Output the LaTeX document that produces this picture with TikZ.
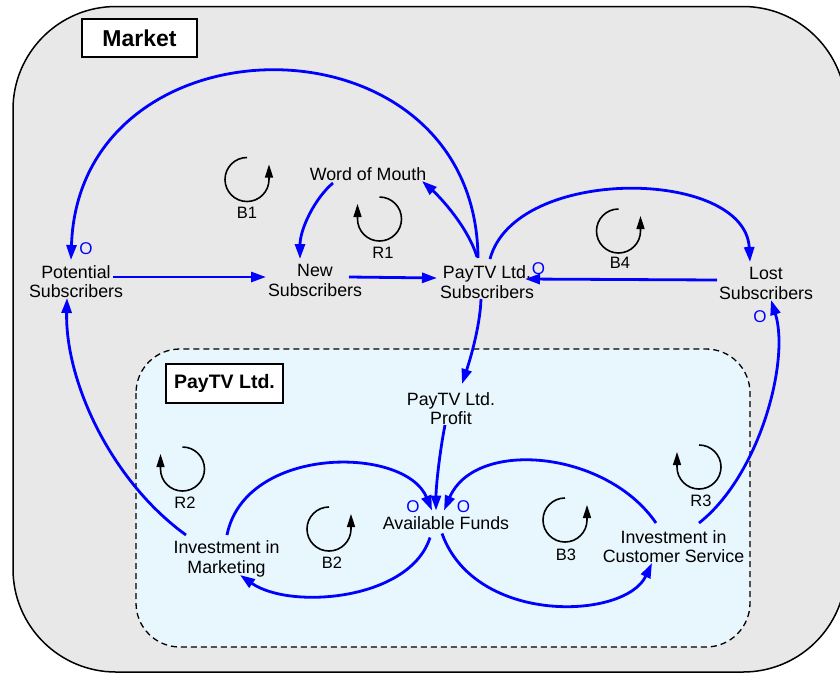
\documentclass[tikz,border=0pt]{standalone}
\usepackage{fontspec}
\setmainfont{Liberation Sans}
\usetikzlibrary{arrows.meta}
\definecolor{mktgray}{RGB}{232,232,232}
\definecolor{firmblue}{RGB}{232,246,254}
\definecolor{linkblue}{RGB}{0,0,255}
\begin{document}
\begin{tikzpicture}[x=1pt,y=1pt,
  var/.style={align=center,font=\fontsize{17.8}{19.5}\selectfont,inner sep=0pt},
  link/.style={draw=linkblue,line width=2.8pt,-{Triangle[length=15pt,width=10pt]}},
  polarity/.style={text=linkblue,font=\fontsize{17}{17}\selectfont,inner sep=0pt},
  looplbl/.style={font=\fontsize{16.5}{16.5}\selectfont,inner sep=0pt},
  loopline/.style={draw=black,line width=1.6pt,-{Triangle[length=13pt,width=8pt]}},
  ccwloop/.pic={\path[loopline] (0,22) arc[start angle=90,end angle=360,radius=22] -- ++(0,15);},
  cwloop/.pic={\path[loopline] (0,22) arc[start angle=90,end angle=-180,radius=22] -- ++(0,15);},
  tag/.style={draw=black,line width=2pt,fill=white,inner sep=0pt}
]
\useasboundingbox (0,0) rectangle (840,-673);
\clip (0,0) rectangle (840,-673);

% market boundary
\draw[fill=mktgray,line width=1.5pt,rounded corners=103pt] (13,-6.5) rectangle (846,-672);
% company boundary
\draw[fill=firmblue,line width=1.3pt,dash pattern=on 6pt off 4pt,rounded corners=44pt] (136,-349) rectangle (750,-647);

\node[tag,minimum width=115pt,minimum height=38pt,font=\bfseries\fontsize{23}{23}\selectfont] (mlabel) at (139.5,-38) {Market};
\node[tag,minimum width=117pt,minimum height=39pt,font=\bfseries\fontsize{19.5}{19.5}\selectfont] (flabel) at (224.5,-383.5) {PayTV Ltd.};

% variables
\node[var] (pot) at (76,-281.5) {Potential\\Subscribers};
\node[var] (new) at (315,-280.5) {New\\Subscribers};
\node[var] (sub) at (487,-282) {PayTV Ltd.\\Subscribers};
\node[var] (word) at (368,-174) {Word of Mouth};
\node[var] (lost) at (766,-283.5) {Lost\\Subscribers};
\node[var] (profit) at (451,-408.5) {PayTV Ltd.\\Profit};
\node[var] (funds) at (446,-523.5) {Available Funds};
\node[var] (mkt) at (226.5,-558.7) {Investment in\\Marketing};
\node[var] (cs) at (673.5,-546.5) {Investment in\\Customer Service};

% causal links
\draw[link] ([shift={(-9,24)}]sub.center) .. controls +(-2,250) and +(8,250) .. ([shift={(-5,21.5)}]pot.center);
\draw[link] ([shift={(-10,25)}]sub.center) .. controls +(-9,30) and +(18,-16) .. ([shift={(54,-7)}]word.center);
\draw[link] ([shift={(-35,-9)}]word.center) .. controls +(-18,-15) and +(0,30) .. ([shift={(-15,21.5)}]new.center);
\draw[link] ([shift={(37,4.5)}]pot.center) -- ([shift={(-49,3.5)}]new.center);
\draw[link] ([shift={(34,3.5)}]new.center) -- ([shift={(-50,4)}]sub.center);
\draw[link] ([shift={(3,23)}]sub.center) .. controls +(25,94) and +(-5,94) .. ([shift={(-16,21.5)}]lost.center);
\draw[link] ([shift={(-49,3.5)}]lost.center) -- ([shift={(38,3)}]sub.center);
\draw[link] ([shift={(-6,-17)}]sub.center) .. controls +(-1,-30) and +(6,18) .. ([shift={(11,24.5)}]profit.center);
\draw[link] ([shift={(-6,-16.5)}]profit.center) .. controls +(-5,-25) and +(0,25) .. ([shift={(-10,13)}]funds.center);
\draw[link] ([shift={(-16,-14)}]funds.center) .. controls +(-20,-63) and +(50,-35) .. ([shift={(13.5,-16.3)}]mkt.center);
\draw[link] ([shift={(0.5,23.7)}]mkt.center) .. controls +(18,90) and +(-27,65) .. ([shift={(-14,13)}]funds.center);
\draw[link] ([shift={(-40.5,23.7)}]mkt.center) .. controls +(-76,55) and +(-2,-82) .. ([shift={(-9,-16.5)}]pot.center);
\draw[link] ([shift={(-4,-10)}]funds.center) .. controls +(33,-92) and +(-27,-57) .. ([shift={(-21.5,-16.5)}]cs.center);
\draw[link] ([shift={(-17.5,23.5)}]cs.center) .. controls +(-50,73) and +(31,72) .. ([shift={(-2,13)}]funds.center);
\draw[link] ([shift={(25.5,23.5)}]cs.center) .. controls +(61,48) and +(19,-60) .. ([shift={(5,-16.5)}]lost.center);

% opposite-polarity marks
\node[polarity] (o1) at (86,-249) {O};
\node[polarity] (o2) at (538.5,-269) {O};
\node[polarity] (o3) at (760,-316.5) {O};
\node[polarity] (o4) at (413,-506.5) {O};
\node[polarity] (o5) at (463.5,-506.5) {O};

% loop identifiers
\pic at (247,-179.5) {ccwloop};
\pic at (379.5,-219) {cwloop};
\pic at (618.5,-231) {ccwloop};
\pic at (182.5,-469) {cwloop};
\pic at (329,-529) {ccwloop};
\pic at (565,-520) {ccwloop};
\pic at (699,-467) {cwloop};
\node[looplbl] (lb1) at (247,-212.5) {B1};
\node[looplbl] (lr1) at (383,-252.5) {R1};
\node[looplbl] (lb4) at (620,-262.5) {B4};
\node[looplbl] (lr2) at (185,-502.5) {R2};
\node[looplbl] (lb2) at (332,-563) {B2};
\node[looplbl] (lb3) at (566,-554.5) {B3};
\node[looplbl] (lr3) at (701,-500.5) {R3};
\end{tikzpicture}
\end{document}
